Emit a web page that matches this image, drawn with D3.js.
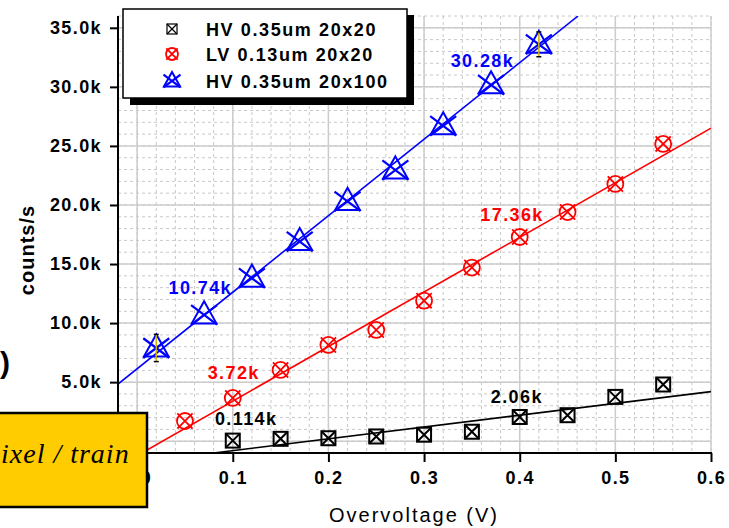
<!DOCTYPE html>
<html>
<head>
<meta charset="utf-8">
<script src="https://cdn.jsdelivr.net/npm/d3@7"></script>
<style>
body{margin:0;background:#fff}
text{font-family:"Liberation Sans",Arial,sans-serif}
</style>
</head>
<body>
<svg id="fig" width="729" height="528"></svg>
<script>

// --- data ---
var xTicks = [0,0.1,0.2,0.3,0.4,0.5,0.6];
var yTicks = [0,5000,10000,15000,20000,25000,30000,35000];

var hv20Volt   = [0.10,0.15,0.20,0.25,0.30,0.35,0.40,0.45,0.50,0.55];
var hv20Counts = [50,200,250,400,550,800,2050,2200,3750,4800];
var hv20Fit    = [[0.08,-1000],[0.6,4200]];

var lv20Volt   = [0.05,0.10,0.15,0.20,0.25,0.30,0.35,0.40,0.45,0.50,0.55];
var lv20Counts = [1710,3660,6030,8150,9420,11900,14700,17290,19400,21780,25170];
var lv20Fit    = [[0.005,-1000],[0.6,26500]];

var hv100Volt   = [0.02,0.07,0.12,0.17,0.22,0.27,0.32,0.37,0.42];
var hv100Counts = [7890,10690,13800,16900,20300,22960,26700,30170,33600];
var hv100Err    = [1150,0,0,0,0,0,0,0,1050];
var hv100Fit    = [[-0.02,4840],[0.461,36000]];

var legendNames = ["HV 0.35um 20x20","LV 0.13um 20x20","HV 0.35um 20x100"];

var noteText = ["30.28k","10.74k","17.36k","3.72k","2.06k","0.114k"];
var noteX    = [0.361,0.066,0.392,0.101,0.397,0.114];
var noteY    = [31670,12450,18630,5250,3220,1350];
var noteCol  = ["#0000ff","#0000ff","#ff0000","#ff0000","#000","#000"];

var svg = d3.select("#fig");
var L = 118, R = 711, T = 16, B = 453;

var x = d3.scaleLinear().domain([-0.02,0.6]).range([L,R]);
var y = d3.scaleLinear().domain([-1000,36000]).range([B,T]);

// grid
var grid = svg.append("g");
grid.selectAll(".vmin").data(d3.range(-1,31).map(function(i){return i*0.02;}))
  .enter().append("line")
  .attr("x1",function(d){return x(d);}).attr("x2",function(d){return x(d);})
  .attr("y1",T).attr("y2",B)
  .attr("stroke","#c8c8c8").attr("stroke-dasharray","3,3");
grid.selectAll(".hmin").data(d3.range(-1,37).map(function(i){return i*1000;}))
  .enter().append("line")
  .attr("y1",function(d){return y(d);}).attr("y2",function(d){return y(d);})
  .attr("x1",L).attr("x2",R)
  .attr("stroke","#c8c8c8").attr("stroke-dasharray","3,3");
grid.selectAll(".vmaj").data(xTicks).enter().append("line")
  .attr("x1",function(d){return x(d);}).attr("x2",function(d){return x(d);})
  .attr("y1",T).attr("y2",B)
  .attr("stroke","#cccccc").attr("stroke-width",1.5);
grid.selectAll(".hmaj").data(yTicks).enter().append("line")
  .attr("y1",function(d){return y(d);}).attr("y2",function(d){return y(d);})
  .attr("x1",L).attr("x2",R)
  .attr("stroke","#cccccc").attr("stroke-width",1.5);

// fit lines
svg.append("clipPath").attr("id","plotclip").append("rect")
  .attr("x",L).attr("y",T).attr("width",R-L).attr("height",B-T);
var line = d3.line().x(function(d){return x(d[0]);}).y(function(d){return y(d[1]);});
var fits = svg.append("g").attr("clip-path","url(#plotclip)");
fits.append("path").attr("d",line(hv20Fit)).attr("stroke","#000").attr("stroke-width",1.6).attr("fill","none");
fits.append("path").attr("d",line(lv20Fit)).attr("stroke","#ff0000").attr("stroke-width",1.6).attr("fill","none");
fits.append("path").attr("d",line(hv100Fit)).attr("stroke","#0000ff").attr("stroke-width",1.6).attr("fill","none");

// marker drawing
function boxX(g,s,col){
    var h = s/2;
    g.append("rect").attr("x",-h).attr("y",-h).attr("width",s).attr("height",s)
      .attr("fill","none").attr("stroke",col).attr("stroke-width",s>12?2:1.2);
    g.append("path").attr("d","M"+(-h)+","+(-h)+"L"+h+","+h+"M"+h+","+(-h)+"L"+(-h)+","+h)
      .attr("stroke",col).attr("stroke-width",s>12?2:1.2);
}
function circX(g,r,col){
    g.append("circle").attr("r",r).attr("fill","none").attr("stroke",col).attr("stroke-width",1.8);
    var a = r*0.95;
    g.append("path").attr("d","M"+(-a)+","+(-a)+"L"+a+","+a+"M"+a+","+(-a)+"L"+(-a)+","+a)
      .attr("stroke",col).attr("stroke-width",1.8);
}
function triX(g,s,col){
    var h = s/2;
    g.append("path").attr("d","M0,"+(-h*1.05)+"L"+(h*0.95)+","+(h*0.65)+"L"+(-h*0.95)+","+(h*0.65)+"Z")
      .attr("fill","none").attr("stroke",col).attr("stroke-width",2);
    var a = h*1.0, b = h*0.75;
    g.append("path").attr("d","M"+(-a)+","+(-b)+"L"+a+","+b+"M"+a+","+(-b)+"L"+(-a)+","+b)
      .attr("stroke",col).attr("stroke-width",2.2);
}

var pts = svg.append("g");
hv20Volt.forEach(function(v,i){
    boxX(pts.append("g").attr("transform","translate("+x(v)+","+y(hv20Counts[i])+")"),14,"#000");
});
lv20Volt.forEach(function(v,i){
    circX(pts.append("g").attr("transform","translate("+x(v)+","+y(lv20Counts[i])+")"),8,"#ff0000");
});
hv100Volt.forEach(function(v,i){
    triX(pts.append("g").attr("transform","translate("+x(v)+","+y(hv100Counts[i])+")"),26,"#0000ff");
});
// error bars on the blue series
hv100Volt.forEach(function(v,i){
    if(!hv100Err[i]) return;
    var y1 = y(hv100Counts[i]+hv100Err[i]), y2 = y(hv100Counts[i]-hv100Err[i]);
    pts.append("line").attr("x1",x(v)).attr("x2",x(v)).attr("y1",y1).attr("y2",y2)
      .attr("stroke","#c8b400").attr("stroke-width",1.5);
    [y1,y2].forEach(function(yy){
        pts.append("line").attr("x1",x(v)-2.5).attr("x2",x(v)+2.5).attr("y1",yy).attr("y2",yy)
          .attr("stroke","#000").attr("stroke-width",1.5);
    });
});

// value notes
svg.append("g").selectAll("text").data(noteText).enter().append("text")
  .attr("x",function(d,i){return x(noteX[i]);})
  .attr("y",function(d,i){return y(noteY[i]);})
  .attr("text-anchor","middle")
  .attr("fill",function(d,i){return noteCol[i];})
  .style("font-size","18px").style("font-weight","bold").style("letter-spacing","1.4px")
  .text(function(d){return d;});

// axes
var xAxis = svg.append("g").attr("transform","translate(0,"+B+")");
xAxis.call(d3.axisBottom(x).tickValues(d3.range(-1,31).map(function(i){return i*0.02;}))
    .tickSize(5).tickFormat(""));
xAxis.call(d3.axisBottom(x).tickValues(xTicks).tickSize(9).tickPadding(9)
    .tickFormat(d3.format(".1f")));
xAxis.select(".domain").remove();
xAxis.append("line").attr("x1",L).attr("x2",R+1).attr("stroke","#000").attr("stroke-width",2);
xAxis.selectAll("line").attr("stroke","#000").attr("stroke-width",2);
xAxis.selectAll("text").attr("fill","#000")
  .style("font-size","18px").style("font-weight","bold").style("letter-spacing","1.4px");

var yAxis = svg.append("g").attr("transform","translate("+L+",0)");
yAxis.call(d3.axisLeft(y).tickValues(d3.range(-1,37).map(function(i){return i*1000;}))
    .tickSize(5).tickFormat(""));
yAxis.call(d3.axisLeft(y).tickValues(yTicks.filter(function(d){return d>0;})).tickSize(8).tickPadding(8)
    .tickFormat(function(d){return d3.format(".1f")(d/1000)+"k";}));
yAxis.select(".domain").remove();
yAxis.append("line").attr("y1",T).attr("y2",B).attr("stroke","#000").attr("stroke-width",2);
yAxis.selectAll("line").attr("stroke","#000").attr("stroke-width",2);
yAxis.selectAll("text").attr("fill","#000")
  .style("font-size","18px").style("font-weight","bold").style("letter-spacing","1.4px");

svg.append("text").attr("x",414).attr("y",522).attr("text-anchor","middle")
  .style("font-size","20px").style("letter-spacing","2px").text("Overvoltage (V)");
svg.append("text").attr("transform","translate(34,250) rotate(-90)").attr("text-anchor","middle")
  .style("font-size","20px").style("font-weight","bold").style("letter-spacing","1px").text("counts/s");

// legend
var leg = svg.append("g");
leg.append("rect").attr("x",130).attr("y",15).attr("width",284).attr("height",90).attr("fill","#000");
leg.append("rect").attr("x",123).attr("y",9).attr("width",284).attr("height",89)
  .attr("fill","#fff").attr("stroke","#000").attr("stroke-width",1.5);
var legRows = [29,54,81];
boxX(leg.append("g").attr("transform","translate(172,"+legRows[0]+")"),10,"#000");
circX(leg.append("g").attr("transform","translate(172,"+legRows[1]+")"),6,"#ff0000");
triX(leg.append("g").attr("transform","translate(172,"+legRows[2]+")"),17,"#0000ff");
leg.selectAll(".lt").data(legendNames).enter().append("text")
  .attr("x",206).attr("y",function(d,i){return legRows[i]+6.5;})
  .style("font-size","18px").style("font-weight","bold").style("letter-spacing","1.6px")
  .text(function(d){return d;});

// overlay box from the slide
svg.append("rect").attr("x",-3).attr("y",413).attr("width",150).attr("height",94)
  .attr("fill","#ffcc00").attr("stroke","#000").attr("stroke-width",2.5);
svg.append("text").attr("x",1).attr("y",463)
  .style("font-family","'Liberation Serif','Times New Roman',serif").style("font-style","italic")
  .style("font-size","28px").style("letter-spacing","1px").text("ixel / train");
svg.append("text").attr("x",0).attr("y",373)
  .style("font-size","30px").style("font-weight","bold").text(")");

</script>
</body>
</html>
